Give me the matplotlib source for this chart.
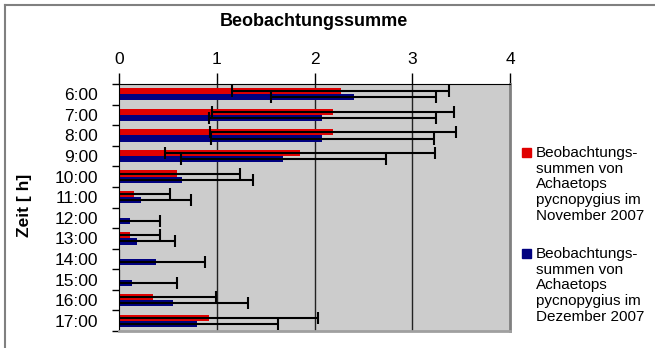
import matplotlib
matplotlib.use("Agg")
import matplotlib.pyplot as plt
import numpy as np
from matplotlib.lines import Line2D
from matplotlib.patches import Rectangle

hours = ["6:00", "7:00", "8:00", "9:00", "10:00", "11:00", "12:00",
         "13:00", "14:00", "15:00", "16:00", "17:00"]
nov = [2.27, 2.19, 2.19, 1.85, 0.59, 0.15, 0.0, 0.11, 0.0, 0.0, 0.35, 0.92]
nov_err = [1.11, 1.24, 1.26, 1.38, 0.65, 0.37, 0.0, 0.31, 0.0, 0.0, 0.64, 1.12]
dec = [2.40, 2.08, 2.08, 1.68, 0.64, 0.22, 0.11, 0.18, 0.38, 0.13, 0.55, 0.80]
dec_err = [0.84, 1.16, 1.14, 1.05, 0.73, 0.52, 0.31, 0.39, 0.50, 0.46, 0.77, 0.83]
xticks = [0, 1, 2, 3, 4]
title = "Beobachtungssumme"
ylabel = "Zeit [ h]"
leg_nov = "Beobachtungs-\nsummen von\nAchaetops\npycnopygius im\nNovember 2007"
leg_dec = "Beobachtungs-\nsummen von\nAchaetops\npycnopygius im\nDezember 2007"

plt.rcParams['font.family'] = ['Liberation Sans', 'DejaVu Sans']

W, H = 655, 348
fig = plt.figure(figsize=(W / 100, H / 100), dpi=100)
ax = fig.add_axes([119 / W, 1 - 331 / H, (510 - 119) / W, (331 - 84) / H])
ax.set_facecolor("#CCCCCC")

red = "#E00000"
blue = "#000080"
y = np.arange(len(hours))
bh = 0.3
ax.barh(y - bh / 2, nov, height=bh, color=red, zorder=2)
ax.barh(y + bh / 2, dec, height=bh, color=blue, zorder=2)
ax.errorbar(nov, y - bh / 2, xerr=nov_err, fmt='none', ecolor='black',
            elinewidth=1.5, capsize=4, capthick=1.5, zorder=3)
ax.errorbar(dec, y + bh / 2, xerr=dec_err, fmt='none', ecolor='black',
            elinewidth=1.5, capsize=4, capthick=1.5, zorder=3)

ax.set_xlim(0, 4)
ax.set_ylim(len(hours) - 0.5, -0.5)

for v in [1, 2, 3]:
    ax.axvline(v, color="#222222", lw=1.0, zorder=1)

ax.xaxis.tick_top()
ax.set_xticks(xticks)
ax.set_xticklabels([str(t) for t in xticks], fontsize=12.5)
ax.tick_params(axis='x', direction='out', length=8, width=1, pad=4, color='black')

ax.set_yticks(np.arange(-0.5, len(hours), 1.0))
ax.set_yticklabels([])
ax.set_yticks(y, minor=True)
ax.set_yticklabels(hours, minor=True, fontsize=12.5)
ax.tick_params(axis='y', which='major', direction='out', length=5, width=1)
ax.tick_params(axis='y', which='minor', length=0, pad=15)

ax.spines['top'].set_color('black')
ax.spines['left'].set_color('black')
ax.spines['right'].set_color('#808080')
ax.spines['right'].set_linewidth(2)
ax.spines['bottom'].set_color('#A0A0A0')
ax.spines['bottom'].set_linewidth(2)

fig.text(314 / W, 1 - 22 / H, title, ha='center', va='center',
         fontsize=13, fontweight='bold')
fig.text(25 / W, 1 - 205 / H, ylabel, ha='center', va='center',
         fontsize=12.5, fontweight='bold', rotation=90)

# legend
for (ytop, col, txt) in [(148, red, leg_nov), (249, blue, leg_dec)]:
    fig.patches.append(Rectangle((522 / W, 1 - (ytop + 9) / H), 9 / W, 9 / H,
                                 transform=fig.transFigure, color=col))
    fig.text(536 / W, 1 - (ytop - 2) / H, txt, ha='left', va='top',
             fontsize=11, linespacing=1.15)

# outer frame (left and top)
fig.add_artist(Line2D([5 / W, 5 / W], [0, 1 - 5 / H], transform=fig.transFigure,
                      color='#808080', lw=1.5))
fig.add_artist(Line2D([5 / W, 1], [1 - 5 / H, 1 - 5 / H], transform=fig.transFigure,
                      color='#808080', lw=1.5))

fig.savefig("out.png", dpi=100)
